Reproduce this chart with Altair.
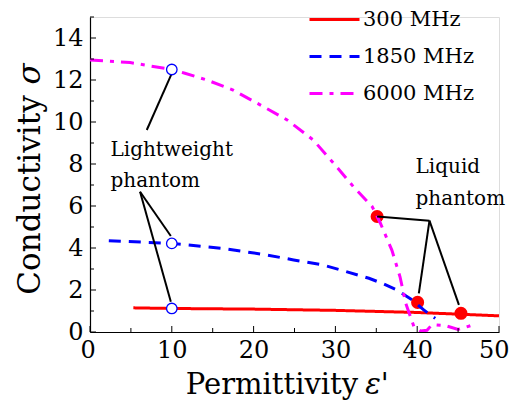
import altair as alt
import pandas as pd

FONT = "DejaVu Serif"

freq_labels = ["300 MHz", "1850 MHz", "6000 MHz"]
freq_colors = ["#ff0000", "#0000ff", "#ff00ff"]
freq_dashes = [[1, 0], [12, 8], [13, 7, 4, 7]]

eps_300 = [5.3, 10, 20, 30, 40, 50]
sig_300 = [1.15, 1.12, 1.09, 1.03, 0.93, 0.77]

eps_1850 = [2.3, 10, 16.3, 21.6, 24.9, 28.5, 30.4, 34.1, 35.7, 37.5, 39.4, 40.8, 42.2]
sig_1850 = [4.35, 4.22, 3.98, 3.67, 3.43, 3.19, 2.98, 2.56, 2.32, 2.0, 1.52, 1.05, 0.65]

eps_6000 = [0, 4.9, 10, 11.6, 14.3, 17.5, 21.2, 24.1, 27.3, 29.8, 32.2, 34.5, 35.5,
            36.9, 37.9, 38.6, 39.6, 40.4, 41.2, 41.8, 43.5, 45.0, 46.5]
sig_6000 = [12.95, 12.83, 12.5, 12.32, 12.0, 11.52, 10.73, 10.1, 9.14, 8.03, 6.92, 5.97, 5.18,
            3.9, 2.63, 1.37, 0.25, 0.05, 0.08, 0.35, 0.3, 0.12, 0.3]

light_eps = [10, 10, 10]
light_sig = [12.5, 4.22, 1.12]
liquid_eps = [35.1, 40.05, 45.35]
liquid_sig = [5.5, 1.41, 0.89]

lead_x1 = [6.94, 6.12, 6.12, 41.5, 41.5, 41.5]
lead_y1 = [9.62, 6.68, 6.68, 5.3, 5.3, 5.3]
lead_x2 = [10.0, 9.88, 9.88, 35.1, 40.2, 45.1]
lead_y2 = [12.32, 4.57, 1.44, 5.5, 1.84, 1.29]

note_text = ["Lightweight", "phantom", "Liquid", "phantom"]
note_eps = [2.5, 2.5, 39.8, 39.8]
note_sig = [8.38, 6.92, 7.56, 6.05]

x_major = [0, 10, 20, 30, 40, 50]
x_minor = [5, 15, 25, 35, 45]
y_major = [0, 2, 4, 6, 8, 10, 12, 14]
y_minor = [1, 3, 5, 7, 9, 11, 13, 15]

rows = []
for name, xs, ys in zip(freq_labels, [eps_300, eps_1850, eps_6000], [sig_300, sig_1850, sig_6000]):
    for i, (a, b) in enumerate(zip(xs, ys)):
        rows.append({"freq": name, "eps": a, "sig": b, "ord": i})
lines_df = pd.DataFrame(rows)

xs = alt.Scale(domain=[0, 50], nice=False, zero=False)
ys = alt.Scale(domain=[0, 15], nice=False, zero=False)

x_axis = alt.Axis(values=x_major, ticks=False, grid=False, labelFont=FONT, labelFontSize=24,
                  labelColor="black", domainColor="black", domainWidth=1.2, labelPadding=6,
                  title=None, labelFlush=True, labelFlushOffset=10)
y_axis = alt.Axis(values=y_major, ticks=False, grid=False, labelFont=FONT, labelFontSize=24,
                  labelColor="black", domainColor="black", domainWidth=1.2, labelPadding=7,
                  title=None)

color_scale = alt.Scale(domain=freq_labels, range=freq_colors)
dash_scale = alt.Scale(domain=freq_labels, range=freq_dashes)

legend = alt.Legend(title=None, orient="none", legendX=218, legendY=-24, symbolType="stroke",
                    symbolSize=2500, symbolStrokeWidth=3, labelFont=FONT, labelFontSize=21,
                    labelColor="black", labelOffset=2, rowPadding=-6, padding=0)

lines = alt.Chart(lines_df).mark_line(strokeWidth=3, clip=True).encode(
    x=alt.X("eps:Q", scale=xs, axis=x_axis),
    y=alt.Y("sig:Q", scale=ys, axis=y_axis),
    color=alt.Color("freq:N", scale=color_scale, legend=legend, sort=freq_labels),
    strokeDash=alt.StrokeDash("freq:N", scale=dash_scale, legend=legend, sort=freq_labels),
    order="ord:Q",
)

liquid = alt.Chart(pd.DataFrame({"eps": liquid_eps, "sig": liquid_sig})).mark_circle(
    size=170, color="#ff0000", opacity=1).encode(x=alt.X("eps:Q", scale=xs), y=alt.Y("sig:Q", scale=ys))

light = alt.Chart(pd.DataFrame({"eps": light_eps, "sig": light_sig})).mark_point(
    shape="circle", size=110, fill="white", filled=True, stroke="#0000ff", strokeWidth=1.3, opacity=1).encode(
    x=alt.X("eps:Q", scale=xs), y=alt.Y("sig:Q", scale=ys))

leads = alt.Chart(pd.DataFrame({"x1": lead_x1, "y1": lead_y1, "x2": lead_x2, "y2": lead_y2})).mark_rule(
    color="black", strokeWidth=2).encode(
    x=alt.X("x1:Q", scale=xs), y=alt.Y("y1:Q", scale=ys), x2="x2:Q", y2="y2:Q")

notes = alt.Chart(pd.DataFrame({"t": note_text, "eps": note_eps, "sig": note_sig})).mark_text(
    font=FONT, fontSize=20, align="left", baseline="alphabetic", color="black").encode(
    x=alt.X("eps:Q", scale=xs), y=alt.Y("sig:Q", scale=ys), text="t:N")

xmaj = alt.Chart(pd.DataFrame({"v": x_major})).mark_rule(color="black", strokeWidth=1).encode(
    x=alt.X("v:Q", scale=xs), y=alt.value(315), y2=alt.value(309))
xmin = alt.Chart(pd.DataFrame({"v": x_minor})).mark_rule(color="black", strokeWidth=1).encode(
    x=alt.X("v:Q", scale=xs), y=alt.value(315), y2=alt.value(311))
ymaj = alt.Chart(pd.DataFrame({"v": y_major})).mark_rule(color="black", strokeWidth=1).encode(
    y=alt.Y("v:Q", scale=ys), x=alt.value(0), x2=alt.value(6))
ymin = alt.Chart(pd.DataFrame({"v": y_minor})).mark_rule(color="black", strokeWidth=1).encode(
    y=alt.Y("v:Q", scale=ys), x=alt.value(0), x2=alt.value(4))

ytitle = alt.Chart(pd.DataFrame({"t": ["Conductivity"]})).mark_text(
    font=FONT, fontSize=31, angle=270, align="center", baseline="alphabetic", color="black").encode(
    x=alt.value(-50), y=alt.value(178), text="t:N")
ysym = alt.Chart(pd.DataFrame({"t": ["\u03c3"]})).mark_text(
    font=FONT, fontSize=31, fontStyle="italic", angle=270, align="center", baseline="alphabetic",
    color="black").encode(x=alt.value(-50), y=alt.value(57), text="t:N")
xtitle = alt.Chart(pd.DataFrame({"t": ["Permittivity"]})).mark_text(
    font=FONT, fontSize=29, align="center", baseline="alphabetic", color="black").encode(
    x=alt.value(182), y=alt.value(377), text="t:N")
xsym = alt.Chart(pd.DataFrame({"t": ["\u03b5'"]})).mark_text(
    font=FONT, fontSize=29, fontStyle="italic", align="center", baseline="alphabetic",
    color="black").encode(x=alt.value(287), y=alt.value(377), text="t:N")

chart = alt.layer(
    liquid, lines, leads, light, notes, xmaj, xmin, ymaj, ymin, ytitle, ysym, xtitle, xsym
).properties(
    width=409, height=315,
    padding={"left": 82, "top": 9, "right": 10, "bottom": 69},
    autosize=alt.AutoSizeParams(type="none"),
).configure_view(stroke=None).configure(background="white")

chart.save("out.html", embed_options={"renderer": "svg", "actions": False})
